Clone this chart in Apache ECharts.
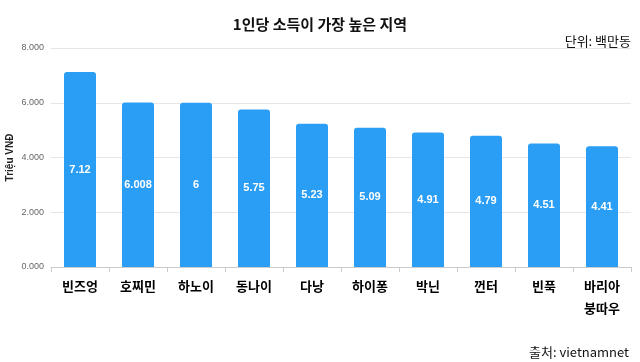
<!DOCTYPE html>
<html><head><meta charset="utf-8">
<script src="https://cdn.jsdelivr.net/npm/echarts@6/dist/echarts.min.js"></script>
<style>html,body{margin:0;padding:0;background:#fff}#c{width:640px;height:362px}</style>
</head><body><div id="c"></div>
<script>
const categories = ['빈즈엉','호찌민','하노이','동나이','다낭','하이퐁','박닌','껀터','빈푹','바리아\n붕따우'];
const values = [7.12, 6.008, 6, 5.75, 5.23, 5.09, 4.91, 4.79, 4.51, 4.41];
const valueLabels = ['7.12','6.008','6','5.75','5.23','5.09','4.91','4.79','4.51','4.41'];
const titleText = '1인당 소득이 가장 높은 지역';
const unitText = '단위: 백만동';
const sourceText = '출처: vietnamnet';
const yAxisName = 'Triệu VNĐ';

const chart = echarts.init(document.getElementById('c'));
chart.setOption({
  animation: false,
  title: [
    {text: titleText, left: 'center', top: 12, textStyle: {fontFamily: 'Noto Sans CJK KR', fontSize: 15, fontWeight: 'bold', color: '#111'}},
    {text: unitText, right: 4, top: 30, textStyle: {fontFamily: 'Noto Sans CJK KR', fontSize: 13, fontWeight: 'normal', color: '#111'}},
    {text: sourceText, right: 6, top: 341, textStyle: {fontFamily: 'Noto Sans CJK KR', fontSize: 13, fontWeight: 'normal', color: '#111'}}
  ],
  grid: {left: 51, right: 9, top: 48, bottom: 95, outerBoundsMode: 'none', containLabel: false},
  xAxis: {
    type: 'category', data: categories,
    axisLine: {lineStyle: {color: '#ccc'}},
    axisTick: {show: true, lineStyle: {color: '#ccc'}},
    axisLabel: {color: '#000', fontFamily: 'Noto Sans CJK KR', fontSize: 13, fontWeight: 'bold', margin: 8, lineHeight: 22, interval: 0}
  },
  yAxis: {
    type: 'value', min: 0, max: 8, interval: 2,
    name: yAxisName, nameLocation: 'middle', nameGap: 36, nameMoveOverlap: false,
    nameTextStyle: {fontFamily: 'Liberation Sans', fontSize: 10, fontWeight: 'bold', color: '#222'},
    axisLine: {show: false}, axisTick: {show: false},
    axisLabel: {formatter: v => v.toFixed(3), color: '#666', fontFamily: 'Liberation Sans', fontSize: 9, margin: 7},
    splitLine: {lineStyle: {color: '#e6e6e6'}}
  },
  series: [{
    type: 'bar', data: values, barWidth: 32,
    itemStyle: {color: '#2A9DF4', borderRadius: [3,3,0,0]},
    label: {show: true, position: 'inside', formatter: p => valueLabels[p.dataIndex], color: '#fff', fontFamily: 'Liberation Sans', fontWeight: 'bold', fontSize: 11}
  }]
});
</script></body></html>
